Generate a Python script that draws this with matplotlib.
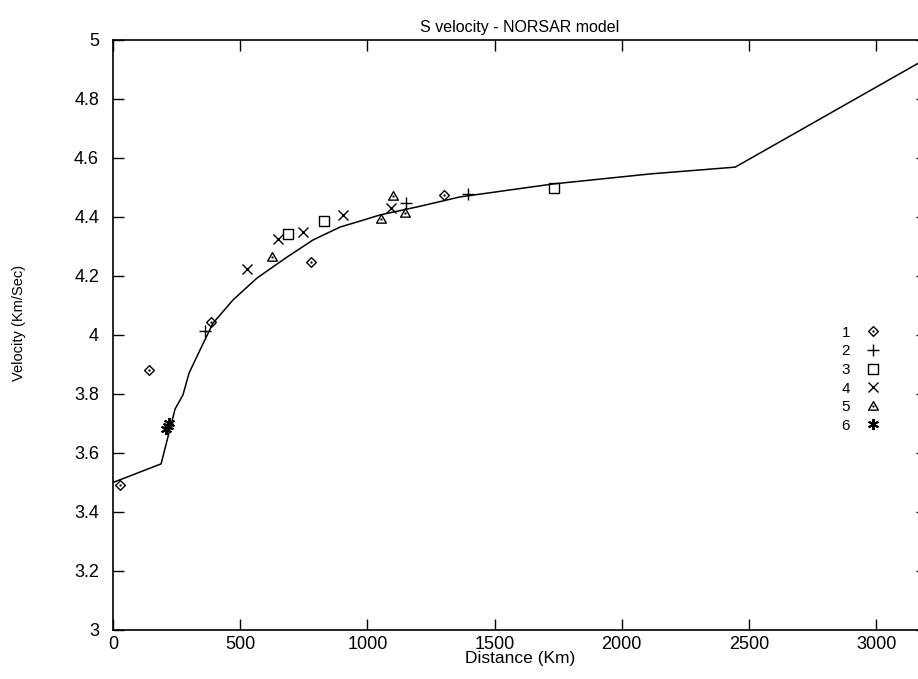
import matplotlib.pyplot as plt
from matplotlib.path import Path
import numpy as np

plt.rcParams['font.family'] = ['Liberation Sans', 'DejaVu Sans']

# NORSAR S velocity model (distance in km, velocity in km/s)
model_dist = [0, 189, 244, 275, 299, 342, 393, 472, 566, 684, 786, 893,
              971, 1050, 1195, 1364, 1730, 2112, 2446, 3200]
model_vel = [3.50, 3.563, 3.749, 3.797, 3.871, 3.949, 4.04, 4.119, 4.193,
             4.264, 4.322, 4.366, 4.386, 4.407, 4.434, 4.468, 4.512, 4.546,
             4.569, 4.938]

# observed points per group
d1 = [28, 142, 385, 779, 1302]
v1 = [3.49, 3.88, 4.044, 4.247, 4.475]
d2 = [362, 1152, 1396]
v2 = [4.014, 4.447, 4.478]
d3 = [688, 830, 1734]
v3 = [4.342, 4.386, 4.498]
d4 = [527, 649, 747, 904, 1091]
v4 = [4.224, 4.325, 4.349, 4.407, 4.43]
d5 = [625, 1054, 1101, 1148]
v5 = [4.264, 4.393, 4.471, 4.414]
d6 = [210, 215, 220]
v6 = [3.68, 3.69, 3.70]


def dotted_marker(verts):
    """outline shape with a small dot in the middle (gnuplot style)"""
    verts = np.asarray(verts, float)
    s = 0.08
    dot = [(-s, -s), (s, -s), (s, s), (-s, s), (-s, -s)]
    codes = ([Path.MOVETO] + [Path.LINETO] * (len(verts) - 2) + [Path.CLOSEPOLY]
             + [Path.MOVETO, Path.LINETO, Path.LINETO, Path.LINETO, Path.CLOSEPOLY])
    return Path(np.vstack([verts, dot]), codes)


diamond = dotted_marker([(0, -1), (1, 0), (0, 1), (-1, 0), (0, -1)])
square = dotted_marker([(-1, -1), (1, -1), (1, 1), (-1, 1), (-1, -1)])
triangle = dotted_marker([(-1, -0.75), (1, -0.75), (0, 1), (-1, -0.75)])

fig = plt.figure(figsize=(9.18, 6.79), dpi=100)
ax = fig.add_axes([0.1231, 0.0722, 0.8867, 0.8689])

ax.plot(model_dist, model_vel, color='black', lw=1.1)

mk = dict(linestyle='none', color='black', mfc='none', mew=1.0)
ax.plot(d1, v1, marker=diamond, ms=7, label='1', **mk)
ax.plot(d2, v2, marker='+', ms=8, label='2', **mk)
ax.plot(d3, v3, marker=square, ms=7, label='3', **mk)
ax.plot(d4, v4, marker='x', ms=7, label='4', **mk)
ax.plot(d5, v5, marker=triangle, ms=7, label='5', **mk)
ax.plot(d6, v6, marker=(6, 2, 0), ms=8, mew=1.4, label='6',
        linestyle='none', color='black', mfc='none')

ax.set_xlim(0, 3200)
ax.set_ylim(3, 5)
ax.set_xticks([0, 500, 1000, 1500, 2000, 2500, 3000])
ax.set_yticks([3, 3.2, 3.4, 3.6, 3.8, 4, 4.2, 4.4, 4.6, 4.8, 5])
ax.set_yticklabels(['3', '3.2', '3.4', '3.6', '3.8', '4', '4.2', '4.4',
                    '4.6', '4.8', '5'])
ax.tick_params(direction='in', length=8, width=1, top=True, right=True,
               labelsize=13)
ax.tick_params(axis='x', pad=4)
ax.tick_params(axis='y', pad=10)
for sp in ax.spines.values():
    sp.set_linewidth(1.2)

ax.set_title('S velocity - NORSAR model', fontsize=11.5, pad=6)
ax.set_xlabel('Distance (Km)', fontsize=12.5, labelpad=-1)
ax.set_ylabel('Velocity (Km/Sec)', fontsize=10.5)
ax.yaxis.set_label_coords(-0.107, 0.52)

ax.legend(loc='center', bbox_to_anchor=(0.92, 0.425), frameon=False,
          markerfirst=False, handlelength=1.2, handletextpad=0.9,
          labelspacing=0.3, fontsize=11)

fig.savefig('out.png', dpi=100)
